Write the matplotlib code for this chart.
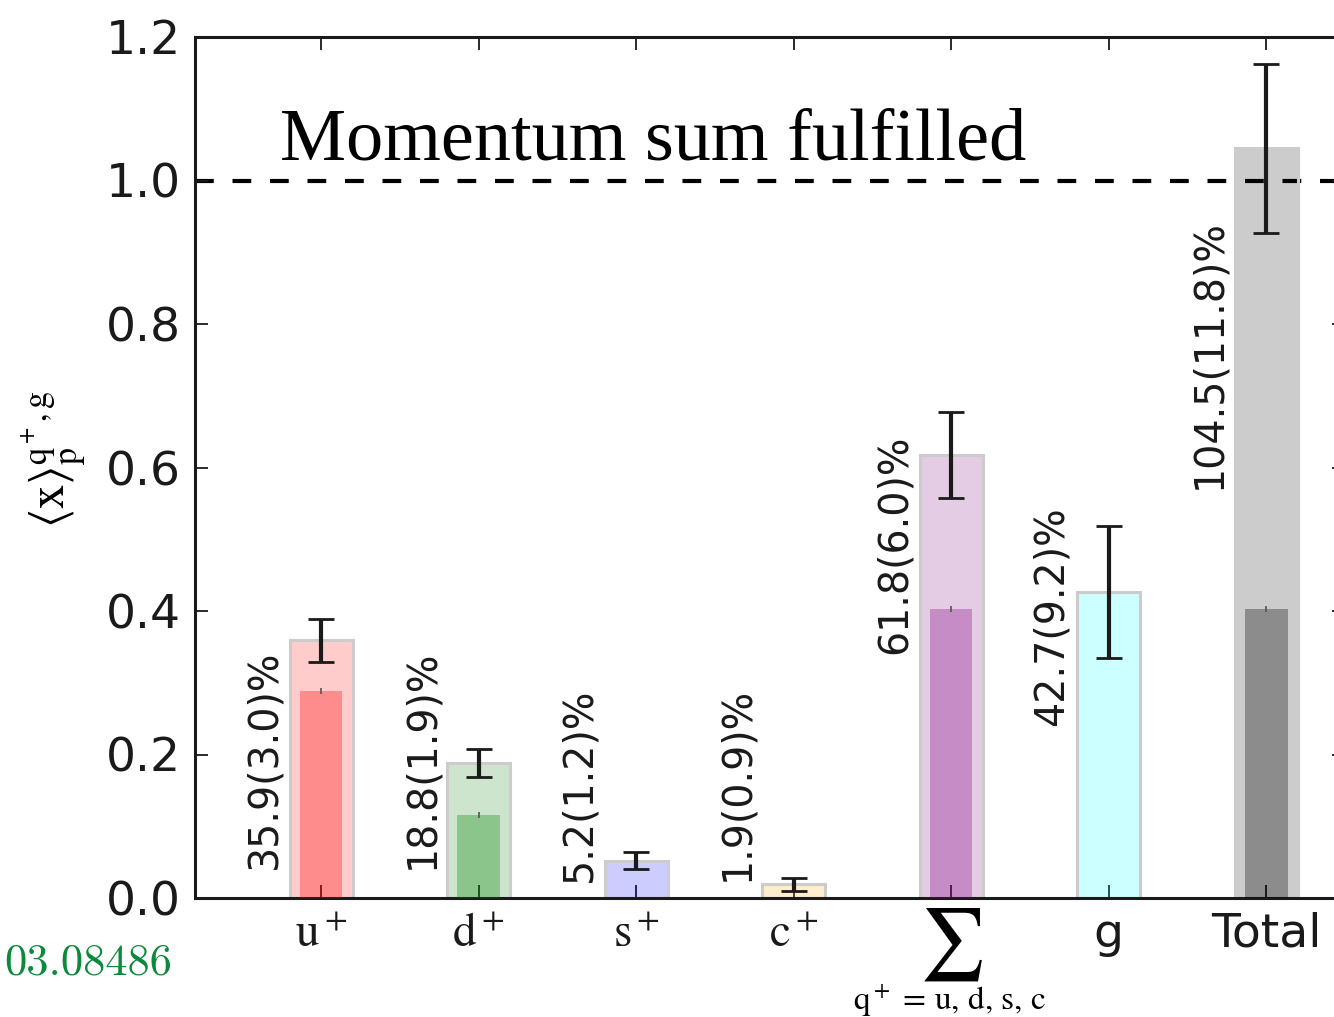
import numpy as np
import matplotlib
matplotlib.use("Agg")
import matplotlib.pyplot as plt

plt.rcParams.update({
    "font.family": "DejaVu Sans",
    "mathtext.fontset": "stix",
})

# data
labels = ["u", "d", "s", "c", "sum", "g", "Total"]
values = [0.359, 0.188, 0.052, 0.019, 0.618, 0.427, 1.045]
errors = [0.030, 0.019, 0.012, 0.009, 0.060, 0.092, 0.118]
inner_idx = [0, 1, 4, 6]
inner_vals = [0.288, 0.116, 0.403, 0.403]
inner_errs = [0.004, 0.004, 0.004, 0.004]
texts = ["35.9(3.0)%", "18.8(1.9)%", "5.2(1.2)%", "1.9(0.9)%",
         "61.8(6.0)%", "42.7(9.2)%", "104.5(11.8)%"]
text_y = [0.04, 0.04, 0.022, 0.024, 0.34, 0.24, 0.57]
base_colors = ["red", "green", "blue", "orange", "purple", "cyan", "black"]
xticklabels = [r"$\mathrm{u}^+$", r"$\mathrm{d}^+$", r"$\mathrm{s}^+$",
               r"$\mathrm{c}^+$", "", "g", "Total"]

x = np.arange(len(labels))

fig = plt.figure(figsize=(13.34, 10.17), dpi=100)
ax = fig.add_axes([195 / 1334, 119 / 1017, 1150 / 1334, 861 / 1017])

# outer bars
ax.bar(x, values, width=0.4, color=base_colors, alpha=0.2, lw=0, zorder=2)
ax.bar(x, values, width=0.4, fill=False, edgecolor="#cccccc", lw=2.2, zorder=2)
# inner bars
ax.bar(x[inner_idx], inner_vals, width=0.27,
       color=[base_colors[i] for i in inner_idx], alpha=0.31, lw=0, zorder=3)
ax.errorbar(x[inner_idx], inner_vals, yerr=inner_errs, fmt="none",
            ecolor="#555555", elinewidth=1.2, capsize=0, zorder=4)
ax.errorbar(x, values, yerr=errors, fmt="none", ecolor="#1a1a1a",
            elinewidth=3, capsize=9.5, capthick=2, zorder=5)

for xi, t, ty in zip(x, texts, text_y):
    ax.text(xi - 0.36, ty, t, rotation=90, ha="center", va="bottom",
            fontsize=28.5, color="#1a1a1a")

ax.axhline(1.0, color="black", lw=3, ls=(0, (4.5, 4.5)), zorder=1)
ax.text(-0.26, 1.029, "Momentum sum fulfilled", family="Liberation Serif",
        fontsize=53.5, ha="left", va="baseline")

ax.set_xlim(-0.8, 6.5)
ax.set_ylim(0, 1.2)
ax.set_xticks(x)
ax.set_xticklabels(xticklabels, fontsize=34)
ax.set_yticks([0.0, 0.2, 0.4, 0.6, 0.8, 1.0, 1.2])
ax.set_yticklabels(["0.0", "0.2", "0.4", "0.6", "0.8", "1.0", "1.2"], fontsize=34)
ax.tick_params(direction="in", top=True, right=True, length=9.5, width=1.3,
               colors="#1a1a1a", pad=10)
for s in ax.spines.values():
    s.set_linewidth(2.2)
    s.set_color("#1a1a1a")

# sum label under tick 4
ax.text(4, -0.01, r"$\sum$", fontsize=52, ha="center", va="top",
        transform=ax.get_xaxis_transform())
fig.text(950 / 1334, 1 - 1001 / 1017, r"q$^+$ = u, d, s, c",
         family="STIXGeneral", fontsize=24, ha="center", va="center")

ax.set_ylabel(r"$\langle \mathrm{x}\rangle_{\mathrm{p}}^{\mathrm{q}^+,\mathrm{g}}$",
              fontsize=35)
ax.yaxis.set_label_coords(-0.092, 0.51)

fig.text(172 / 1334, 1 - 963 / 1017, "03.08486", fontname="cmr10",
         fontsize=32, color="#0a8a3a", ha="right", va="center")

fig.savefig("out.png", dpi=100)
